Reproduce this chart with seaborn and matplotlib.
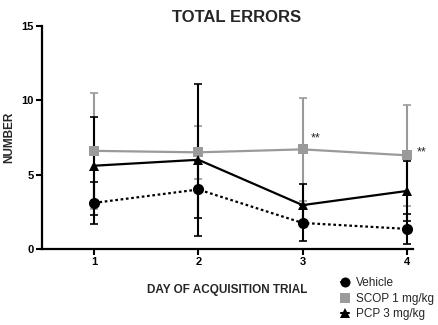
import matplotlib
matplotlib.use("Agg")
import matplotlib.pyplot as plt
import seaborn as sns
import pandas as pd
from matplotlib.lines import Line2D

sns.set_theme(style="ticks")
plt.rcParams['font.family'] = ['Liberation Sans', 'DejaVu Sans']

days = [1, 2, 3, 4]
vehicle_mean = [3.1, 4.0, 1.75, 1.35]
vehicle_sd = [1.4, 1.9, 1.2, 1.0]
scop_mean = [6.6, 6.5, 6.7, 6.3]
scop_sd = [3.9, 1.8, 3.45, 3.4]
pcp_mean = [5.6, 6.0, 2.95, 3.9]
pcp_sd = [3.3, 5.1, 1.4, 2.0]
groups = ["Vehicle", "SCOP 1 mg/kg", "PCP 3 mg/kg"]

df = pd.DataFrame({
    "day": days * 3,
    "errors": vehicle_mean + scop_mean + pcp_mean,
    "sd": vehicle_sd + scop_sd + pcp_sd,
    "group": [g for g in groups for _ in days],
})

styles = {
    "Vehicle": dict(color="black", ls=(0, (1.2, 1.2)), marker="o", ms=8),
    "SCOP 1 mg/kg": dict(color="#9a9a9a", ls="-", marker="s", ms=7.5),
    "PCP 3 mg/kg": dict(color="black", ls="-", marker="^", ms=7.5),
}

fig = plt.figure(figsize=(4.38, 3.25), dpi=100)
ax = fig.add_axes([0.096, 0.234, 0.847, 0.686])

# draw error bars first, then lines and markers on top
for g in ["SCOP 1 mg/kg", "PCP 3 mg/kg", "Vehicle"]:
    sub = df[df.group == g]
    st = styles[g]
    ax.errorbar(sub.day, sub.errors, yerr=sub.sd, fmt="none",
                ecolor=st["color"], elinewidth=1.5, capsize=3, capthick=1.2, zorder=2)

for g in ["SCOP 1 mg/kg", "PCP 3 mg/kg", "Vehicle"]:
    sub = df[df.group == g]
    st = styles[g]
    sns.lineplot(data=sub, x="day", y="errors", ax=ax, color=st["color"],
                 linestyle=st["ls"], linewidth=1.6, marker=st["marker"],
                 markersize=st["ms"], markeredgewidth=0, zorder=3, legend=False)

# significance markers
ax.text(3.08, scop_mean[2] + 0.75, "**", fontsize=9, ha="left", va="center")
ax.text(4.1, scop_mean[3] + 0.2, "**", fontsize=9, ha="left", va="center", clip_on=False)

ax.set_xlim(0.5, 4.06)
ax.set_ylim(0, 15)
ax.set_xticks(days)
ax.set_yticks([0, 5, 10, 15])
ax.tick_params(axis="both", labelsize=8, width=1.5, length=4, colors="black", pad=2)
for lab in ax.get_xticklabels() + ax.get_yticklabels():
    lab.set_fontweight("bold")
sns.despine(ax=ax)
for s in ["left", "bottom"]:
    ax.spines[s].set_linewidth(1.6)
    ax.spines[s].set_color("black")

ax.set_xlabel("DAY OF ACQUISITION TRIAL", fontsize=8.5, fontweight="bold", labelpad=12)
ax.set_ylabel("NUMBER", fontsize=8.5, fontweight="bold")
ax.yaxis.set_label_coords(-0.073, 0.5)
fig.text(0.54, 0.945, "TOTAL ERRORS", fontsize=12, fontweight="bold", ha="center", va="center")

handles = [Line2D([0], [0], color=styles[g]["color"], marker=styles[g]["marker"],
                  ms=styles[g]["ms"] * 0.9, markeredgewidth=0, lw=1.5) for g in groups]
fig.legend(handles, groups, loc="upper left", bbox_to_anchor=(0.765, 0.165),
           frameon=False, fontsize=8.5, handlelength=0.7, handletextpad=0.6,
           labelspacing=0.3, borderpad=0)

fig.savefig("out.png", dpi=100)
